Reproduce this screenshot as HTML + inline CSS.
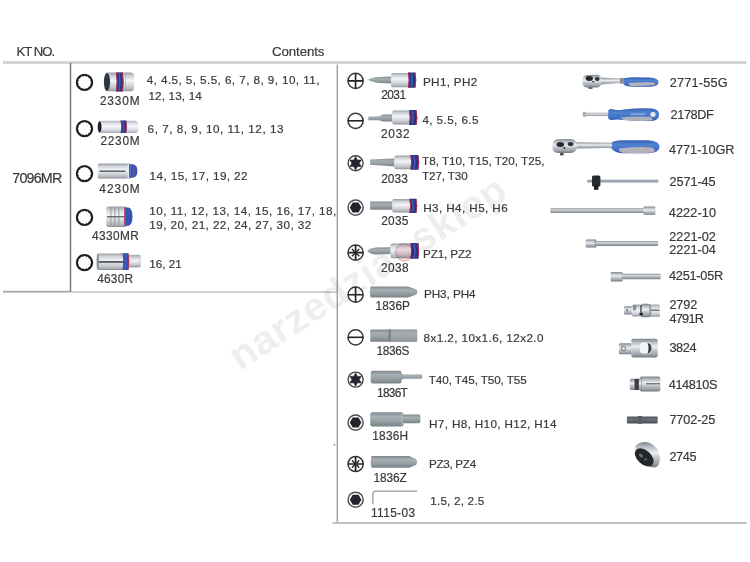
<!DOCTYPE html>
<html><head><meta charset="utf-8"><style>
html,body{margin:0;padding:0;background:#fff;}
body{width:750px;height:562px;position:relative;overflow:hidden;font-family:"Liberation Sans",sans-serif;}
.t{position:absolute;white-space:nowrap;color:#3a3a3e;font-family:"Liberation Sans",sans-serif;-webkit-text-stroke:0.2px #3a3a3e;}
svg{position:absolute;left:0;top:0;}
.wm{position:absolute;left:240px;top:337.14px;font:bold 40px/40px "Liberation Sans",sans-serif;color:#eeeeef;white-space:nowrap;transform-origin:0 33.86px;transform:rotate(-32.9deg);letter-spacing:0.8px;mix-blend-mode:multiply;}
.wm .dot{display:inline-block;width:19px;height:19px;border-radius:50%;background:rgba(235,150,165,.28);box-shadow:inset 0 0 0 2px rgba(220,120,140,.25);vertical-align:1.5px;margin:0 4px 0 3px;}
</style></head><body>
<svg width="750" height="562" viewBox="0 0 750 562">
<defs>
<linearGradient id="silv" x1="0" y1="0" x2="0" y2="1">
 <stop offset="0" stop-color="#7e858c"/><stop offset=".2" stop-color="#b9bfc5"/><stop offset=".42" stop-color="#eceef0"/><stop offset=".62" stop-color="#c0c5ca"/><stop offset=".85" stop-color="#9aa1a8"/><stop offset="1" stop-color="#6e757c"/>
</linearGradient>
<linearGradient id="silvL" x1="0" y1="0" x2="0" y2="1">
 <stop offset="0" stop-color="#a2a8ae"/><stop offset=".25" stop-color="#d6dade"/><stop offset=".5" stop-color="#f2f3f5"/><stop offset=".8" stop-color="#c4c9ce"/><stop offset="1" stop-color="#8e959c"/>
</linearGradient>
<linearGradient id="silvP" x1="0" y1="0" x2="0" y2="1">
 <stop offset="0" stop-color="#b0b4c0"/><stop offset=".2" stop-color="#dcdfe8"/><stop offset=".45" stop-color="#f6f6fa"/><stop offset=".75" stop-color="#dadce6"/><stop offset="1" stop-color="#a8acb8"/>
</linearGradient>
<linearGradient id="sock" x1="0" y1="0" x2="0" y2="1">
 <stop offset="0" stop-color="#979da4"/><stop offset=".18" stop-color="#cfd3d8"/><stop offset=".42" stop-color="#f3f4f6"/><stop offset=".68" stop-color="#d3d7db"/><stop offset=".88" stop-color="#b3b8be"/><stop offset="1" stop-color="#888e95"/>
</linearGradient>
<linearGradient id="rod" x1="0" y1="0" x2="0" y2="1">
 <stop offset="0" stop-color="#868c93"/><stop offset=".3" stop-color="#d2d6da"/><stop offset=".55" stop-color="#b6bbc0"/><stop offset="1" stop-color="#7a8087"/>
</linearGradient>
<linearGradient id="rodb" x1="0" y1="0" x2="0" y2="1">
 <stop offset="0" stop-color="#6c7890"/><stop offset=".45" stop-color="#b8c0d0"/><stop offset="1" stop-color="#6a7488"/>
</linearGradient>
<linearGradient id="bitg" x1="0" y1="0" x2="0" y2="1">
 <stop offset="0" stop-color="#7e888c"/><stop offset=".3" stop-color="#a6afb3"/><stop offset=".6" stop-color="#98a1a5"/><stop offset="1" stop-color="#788286"/>
</linearGradient>
<linearGradient id="bitd" x1="0" y1="0" x2="0" y2="1">
 <stop offset="0" stop-color="#4e555c"/><stop offset=".4" stop-color="#6c737a"/><stop offset="1" stop-color="#454b52"/>
</linearGradient>
<linearGradient id="blu" x1="0" y1="0" x2="0" y2="1">
 <stop offset="0" stop-color="#3560b4"/><stop offset=".35" stop-color="#5284d2"/><stop offset=".75" stop-color="#3f6fc2"/><stop offset="1" stop-color="#2f5aac"/>
</linearGradient>
<linearGradient id="band" x1="0" y1="0" x2="1" y2="0">
 <stop offset="0" stop-color="#c03048"/><stop offset=".15" stop-color="#2a3a98"/><stop offset=".5" stop-color="#3550b8"/><stop offset=".85" stop-color="#2a3a98"/><stop offset="1" stop-color="#c03048"/>
</linearGradient>
<linearGradient id="gry" x1="0" y1="0" x2="0" y2="1">
 <stop offset="0" stop-color="#9aa0a6"/><stop offset="1" stop-color="#c8ccd0"/>
</linearGradient>
</defs>
<rect x="3" y="61" width="743.5" height="3" fill="#d9d9dd"/>
<rect x="3" y="61.6" width="743.5" height="1.6" fill="#cfcfd4"/>
<rect x="69.8" y="63" width="1.4" height="229" fill="#707074"/>
<rect x="3" y="290.8" width="67" height="1.8" fill="#a6a6ae"/>
<rect x="71" y="291.3" width="266" height="1.6" fill="#c2c2ca"/>
<rect x="336.6" y="64.5" width="1.3" height="458" fill="#9a9a9e"/>
<rect x="332.5" y="522" width="414.3" height="2" fill="#c2c2c4"/>
<path d="M75.80,82.40 a8.7,8.7 0 1,0 17.4,0 a8.7,8.7 0 1,0 -17.4,0 Z M84.50,75.65 L86.07,76.56 L87.88,76.55 L88.78,78.12 L90.35,79.03 L90.34,80.83 L91.25,82.40 L90.34,83.97 L90.35,85.78 L88.78,86.68 L87.88,88.25 L86.07,88.24 L84.50,89.15 L82.93,88.24 L81.12,88.25 L80.22,86.68 L78.65,85.78 L78.66,83.97 L77.75,82.40 L78.66,80.83 L78.65,79.03 L80.22,78.12 L81.12,76.55 L82.93,76.56 Z" fill="#1c1c20" fill-rule="evenodd"/>
<path d="M75.80,128.60 a8.7,8.7 0 1,0 17.4,0 a8.7,8.7 0 1,0 -17.4,0 Z M84.50,121.85 L86.07,122.76 L87.88,122.75 L88.78,124.32 L90.35,125.22 L90.34,127.03 L91.25,128.60 L90.34,130.17 L90.35,131.97 L88.78,132.88 L87.88,134.45 L86.07,134.44 L84.50,135.35 L82.93,134.44 L81.12,134.45 L80.22,132.88 L78.65,131.97 L78.66,130.17 L77.75,128.60 L78.66,127.03 L78.65,125.22 L80.22,124.32 L81.12,122.75 L82.93,122.76 Z" fill="#1c1c20" fill-rule="evenodd"/>
<path d="M75.80,173.60 a8.7,8.7 0 1,0 17.4,0 a8.7,8.7 0 1,0 -17.4,0 Z M84.50,166.85 L86.07,167.76 L87.88,167.75 L88.78,169.32 L90.35,170.22 L90.34,172.03 L91.25,173.60 L90.34,175.17 L90.35,176.97 L88.78,177.88 L87.88,179.45 L86.07,179.44 L84.50,180.35 L82.93,179.44 L81.12,179.45 L80.22,177.88 L78.65,176.97 L78.66,175.17 L77.75,173.60 L78.66,172.03 L78.65,170.22 L80.22,169.32 L81.12,167.75 L82.93,167.76 Z" fill="#1c1c20" fill-rule="evenodd"/>
<path d="M75.80,217.40 a8.7,8.7 0 1,0 17.4,0 a8.7,8.7 0 1,0 -17.4,0 Z M84.50,210.65 L86.07,211.56 L87.88,211.55 L88.78,213.12 L90.35,214.03 L90.34,215.83 L91.25,217.40 L90.34,218.97 L90.35,220.78 L88.78,221.68 L87.88,223.25 L86.07,223.24 L84.50,224.15 L82.93,223.24 L81.12,223.25 L80.22,221.68 L78.65,220.78 L78.66,218.97 L77.75,217.40 L78.66,215.83 L78.65,214.03 L80.22,213.12 L81.12,211.55 L82.93,211.56 Z" fill="#1c1c20" fill-rule="evenodd"/>
<path d="M75.80,262.60 a8.7,8.7 0 1,0 17.4,0 a8.7,8.7 0 1,0 -17.4,0 Z M84.50,255.85 L86.07,256.76 L87.88,256.75 L88.78,258.32 L90.35,259.23 L90.34,261.03 L91.25,262.60 L90.34,264.17 L90.35,265.98 L88.78,266.88 L87.88,268.45 L86.07,268.44 L84.50,269.35 L82.93,268.44 L81.12,268.45 L80.22,266.88 L78.65,265.98 L78.66,264.17 L77.75,262.60 L78.66,261.03 L78.65,259.23 L80.22,258.32 L81.12,256.75 L82.93,256.76 Z" fill="#1c1c20" fill-rule="evenodd"/>
<circle cx="355.6" cy="80.9" r="7.6" fill="none" stroke="#3a3a3e" stroke-width="1.5"/><path d="M355.6,73.30000000000001 V88.5 M348.0,80.9 H363.20000000000005" stroke="#222" stroke-width="1.6"/>
<circle cx="355.6" cy="120.8" r="7.6" fill="none" stroke="#3a3a3e" stroke-width="1.5"/><path d="M348.0,120.8 H363.20000000000005" stroke="#222" stroke-width="1.6"/>
<circle cx="355.6" cy="163.3" r="7.5" fill="none" stroke="#444" stroke-width="1.4"/><path d="M355.60,156.70 L357.45,160.10 L361.32,160.00 L359.30,163.30 L361.32,166.60 L357.45,166.50 L355.60,169.90 L353.75,166.50 L349.88,166.60 L351.90,163.30 L349.88,160.00 L353.75,160.10 Z" fill="#23262c" stroke="#23262c" stroke-width="0.6" stroke-linejoin="round"/>
<circle cx="355.6" cy="207.6" r="7.55" fill="none" stroke="#505055" stroke-width="1.45"/><path d="M361.40,207.60 L358.50,212.62 L352.70,212.62 L349.80,207.60 L352.70,202.58 L358.50,202.58 Z" fill="#22252b"/>
<circle cx="355.6" cy="252.6" r="7.6" fill="none" stroke="#3a3a3e" stroke-width="1.5"/><path d="M355.6,245.0 V260.2 M348.0,252.6 H363.20000000000005" stroke="#222" stroke-width="1.7"/><path d="M356.45,253.45 L359.28,256.28 M354.75,253.45 L351.92,256.28 M354.75,251.75 L351.92,248.92 M356.45,251.75 L359.28,248.92 " stroke="#222" stroke-width="1.35"/>
<circle cx="355.6" cy="294.7" r="7.6" fill="none" stroke="#3a3a3e" stroke-width="1.5"/><path d="M355.6,287.09999999999997 V302.3 M348.0,294.7 H363.20000000000005" stroke="#222" stroke-width="1.6"/>
<circle cx="355.6" cy="337.3" r="7.6" fill="none" stroke="#3a3a3e" stroke-width="1.5"/><path d="M348.0,337.3 H363.20000000000005" stroke="#222" stroke-width="1.6"/>
<circle cx="355.6" cy="379.6" r="7.5" fill="none" stroke="#444" stroke-width="1.4"/><path d="M355.60,373.00 L357.45,376.40 L361.32,376.30 L359.30,379.60 L361.32,382.90 L357.45,382.80 L355.60,386.20 L353.75,382.80 L349.88,382.90 L351.90,379.60 L349.88,376.30 L353.75,376.40 Z" fill="#23262c" stroke="#23262c" stroke-width="0.6" stroke-linejoin="round"/>
<circle cx="355.6" cy="422.6" r="7.55" fill="none" stroke="#505055" stroke-width="1.45"/><path d="M361.40,422.60 L358.50,427.62 L352.70,427.62 L349.80,422.60 L352.70,417.58 L358.50,417.58 Z" fill="#22252b"/>
<circle cx="355.6" cy="464.0" r="7.6" fill="none" stroke="#3a3a3e" stroke-width="1.5"/><path d="M355.6,456.4 V471.6 M348.0,464.0 H363.20000000000005" stroke="#222" stroke-width="1.7"/><path d="M356.45,464.85 L359.28,467.68 M354.75,464.85 L351.92,467.68 M354.75,463.15 L351.92,460.32 M356.45,463.15 L359.28,460.32 " stroke="#222" stroke-width="1.35"/>
<circle cx="355.6" cy="499.7" r="7.55" fill="none" stroke="#505055" stroke-width="1.45"/><path d="M361.40,499.70 L358.50,504.72 L352.70,504.72 L349.80,499.70 L352.70,494.68 L358.50,494.68 Z" fill="#22252b"/>
<g>
<rect x="104.5" y="72.6" width="29.50" height="18.70" rx="3.5" fill="url(#sock)" />
<ellipse cx="107" cy="81.95" rx="3.1" ry="8.9" fill="#30363e"/>
<path d="M116.00,72.40 Q117.60,81.95 116.00,91.50 L122.80,91.50 Q124.40,81.95 122.80,72.40 Z" fill="#2a3282"/><path d="M119.06,73.40 Q120.66,81.95 119.06,90.50" stroke="#5068c0" stroke-width="1.70" fill="none" opacity=".7"/><path d="M116.45,72.40 Q118.05,81.95 116.45,91.50" stroke="#c02c48" stroke-width="0.9" fill="none"/><path d="M122.35,72.40 Q123.95,81.95 122.35,91.50" stroke="#c02c48" stroke-width="0.9" fill="none"/>
<rect x="125" y="74" width="0.8" height="15.5" fill="#9aa4b0" opacity=".6"/>
<rect x="98.2" y="120.8" width="40.10" height="12.10" rx="3.5" fill="url(#silvP)" />
<ellipse cx="99.6" cy="126.85" rx="1.9" ry="5.6" fill="#1c2026"/>
<path d="M120.60,120.60 Q122.20,126.85 120.60,133.10 L126.20,133.10 Q127.80,126.85 126.20,120.60 Z" fill="#2a3282"/><path d="M123.12,121.60 Q124.72,126.85 123.12,132.10" stroke="#5068c0" stroke-width="1.40" fill="none" opacity=".7"/><path d="M121.05,120.60 Q122.65,126.85 121.05,133.10" stroke="#c02c48" stroke-width="0.9" fill="none"/><path d="M125.75,120.60 Q127.35,126.85 125.75,133.10" stroke="#c02c48" stroke-width="0.9" fill="none"/>
<rect x="97.7" y="163.6" width="33.30" height="14.90" rx="1.5" fill="url(#sock)" />
<rect x="99.5" y="170.6" width="26" height="1.1" fill="#2a2c30"/>
<rect x="127.6" y="164" width="1.6" height="14" fill="#e4e7ea"/>
<path d="M129,164.3 H133 Q137.4,165 137.4,171 Q137.4,177 133,177.7 H129 Z" fill="#3a52b0"/>
<path d="M130.2,165 V177" stroke="#6a80d0" stroke-width="1.2" opacity=".7"/>
<path d="M133.4,164.6 Q134.4,171 133.4,177.4" stroke="#c83a4c" stroke-width="1" fill="none"/>
<rect x="106.3" y="206.4" width="20.70" height="20.60" rx="2.5" fill="url(#sock)" />
<rect x="110.5" y="207" width="0.8" height="19.5" fill="#8a9096"/><rect x="114.5" y="207" width="0.8" height="19.5" fill="#8a9096"/><rect x="118.5" y="207" width="0.8" height="19.5" fill="#8a9096"/>
<rect x="107" y="216.2" width="18" height="1.1" fill="#4a4e54"/>
<path d="M124.5,207.6 H128.5 Q132.5,209 132.5,216.7 Q132.5,224.5 128.5,225.8 H124.5 Z" fill="#3552b4"/>
<rect x="124.3" y="207.6" width="1.6" height="18.2" fill="#c03a48"/>
<rect x="96.7" y="253.4" width="32.00" height="16.50" rx="2" fill="url(#sock)" />
<rect x="128.4" y="255" width="12" height="12.2" rx="1" fill="url(#silvL)" stroke="#b0b6bc" stroke-width=".5"/>
<rect x="99" y="261.3" width="27" height="1.3" fill="#1e2024"/>
<path d="M122.60,253.30 Q124.20,261.60 122.60,269.90 L128.40,269.90 Q130.00,261.60 128.40,253.30 Z" fill="#3050b8"/><path d="M125.21,254.30 Q126.81,261.60 125.21,268.90" stroke="#5068c0" stroke-width="1.45" fill="none" opacity=".7"/><path d="M123.05,253.30 Q124.65,261.60 123.05,269.90" stroke="#c02c48" stroke-width="0.9" fill="none"/><path d="M127.95,253.30 Q129.55,261.60 127.95,269.90" stroke="#c02c48" stroke-width="0.9" fill="none"/>
<ellipse cx="97.8" cy="261.6" rx="1.2" ry="8" fill="#8a9096"/>
<path d="M368,79.7 Q372,77.2 379.5,77 L391.5,76.6 L391.5,83.6 L379.5,83 Q372,82.3 368,79.7 Z" fill="url(#bitg)"/>
<rect x="391" y="72.9" width="17.60" height="14.40" rx="1.8" fill="url(#sock)" /><path d="M408.00,72.50 Q409.60,80.10 408.00,87.70 L415.40,87.70 Q417.00,80.10 415.40,72.50 Z" fill="#2a3282"/><path d="M411.33,73.50 Q412.93,80.10 411.33,86.70" stroke="#5068c0" stroke-width="1.85" fill="none" opacity=".7"/><path d="M408.45,72.50 Q410.05,80.10 408.45,87.70" stroke="#c02c48" stroke-width="0.9" fill="none"/><path d="M414.95,72.50 Q416.55,80.10 414.95,87.70" stroke="#c02c48" stroke-width="0.9" fill="none"/>
<path d="M368.3,116.7 L379,116.3 L383,114.6 L392.5,114.6 L392.5,121.4 L383,121.4 L379,120.3 L368.3,120.3 Z" fill="url(#bitg)"/>
<rect x="392.2" y="110.4" width="17.40" height="14.20" rx="1.8" fill="url(#sock)" /><path d="M409.00,110.00 Q410.60,117.50 409.00,125.00 L416.50,125.00 Q418.10,117.50 416.50,110.00 Z" fill="#2a3282"/><path d="M412.38,111.00 Q413.98,117.50 412.38,124.00" stroke="#5068c0" stroke-width="1.88" fill="none" opacity=".7"/><path d="M409.45,110.00 Q411.05,117.50 409.45,125.00" stroke="#c02c48" stroke-width="0.9" fill="none"/><path d="M416.05,110.00 Q417.65,117.50 416.05,125.00" stroke="#c02c48" stroke-width="0.9" fill="none"/>
<path d="M370.1,159.6 L394.6,158.5 L394.6,166.5 L370.1,164.8 Z" fill="url(#bitg)"/>
<rect x="394.4" y="155.5" width="16.60" height="13.80" rx="1.8" fill="url(#sock)" /><path d="M410.40,155.10 Q412.00,162.40 410.40,169.70 L418.40,169.70 Q420.00,162.40 418.40,155.10 Z" fill="#2a3282"/><path d="M414.00,156.10 Q415.60,162.40 414.00,168.70" stroke="#5068c0" stroke-width="2.00" fill="none" opacity=".7"/><path d="M410.85,155.10 Q412.45,162.40 410.85,169.70" stroke="#c02c48" stroke-width="0.9" fill="none"/><path d="M417.95,155.10 Q419.55,162.40 417.95,169.70" stroke="#c02c48" stroke-width="0.9" fill="none"/>
<rect x="370.1" y="201.4" width="22.90" height="8.40" rx="0.8" fill="url(#bitg)" />
<rect x="392.2" y="199.1" width="17.80" height="13.50" rx="1.8" fill="url(#sock)" /><path d="M409.40,198.70 Q411.00,205.85 409.40,213.00 L416.40,213.00 Q418.00,205.85 416.40,198.70 Z" fill="#2a3282"/><path d="M412.55,199.70 Q414.15,205.85 412.55,212.00" stroke="#5068c0" stroke-width="1.75" fill="none" opacity=".7"/><path d="M409.85,198.70 Q411.45,205.85 409.85,213.00" stroke="#c02c48" stroke-width="0.9" fill="none"/><path d="M415.95,198.70 Q417.55,205.85 415.95,213.00" stroke="#c02c48" stroke-width="0.9" fill="none"/>
<path d="M367.2,250.9 Q370,248 376,247.5 L390.8,247.2 L390.8,253.9 L376,254.5 Q370,254 367.2,250.9 Z" fill="url(#bitg)"/>
<rect x="390.4" y="243.4" width="20.60" height="14.90" rx="1.8" fill="url(#sock)" /><path d="M410.40,243.00 Q412.00,250.85 410.40,258.70 L418.30,258.70 Q419.90,250.85 418.30,243.00 Z" fill="#2a3282"/><path d="M413.95,244.00 Q415.56,250.85 413.95,257.70" stroke="#5068c0" stroke-width="1.98" fill="none" opacity=".7"/><path d="M410.85,243.00 Q412.45,250.85 410.85,258.70" stroke="#c02c48" stroke-width="0.9" fill="none"/><path d="M417.85,243.00 Q419.45,250.85 417.85,258.70" stroke="#c02c48" stroke-width="0.9" fill="none"/>
<path d="M370.5,286.5 H408 L416.6,289.6 Q418.2,292 416.6,294.4 L408,297.5 H370.5 Q368.8,292 370.5,286.5 Z" fill="url(#bitg)"/>
<rect x="370.2" y="329.4" width="47.00" height="12.40" rx="0.8" fill="url(#bitg)" />
<path d="M391,329.4 L417.2,330.5 L417.2,340.8 L391,341.8 Z" fill="#a2a9ad" opacity=".55"/>
<rect x="388.5" y="329.4" width="2.5" height="12.4" fill="#7c8489"/>
<rect x="370.7" y="370.8" width="30.80" height="12.80" rx="2" fill="url(#bitg)" />
<path d="M400.5,373.2 Q402,374.6 404,374.6 H421.8 Q422.8,376.7 421.8,378.8 H404 Q402,378.8 400.5,380.6 Z" fill="url(#bitg)"/>
<rect x="370.2" y="412.2" width="33.40" height="14.40" rx="2.5" fill="url(#bitg)" />
<rect x="402.5" y="414.6" width="17.90" height="8.60" rx="1.8" fill="url(#bitg)" />
<rect x="401.5" y="412.6" width="1.2" height="13.6" fill="#b8bec2" opacity=".8"/>
<path d="M371.5,456.1 H409 L416.2,459 Q418,462 416.2,465 L409,467.8 H371.5 Q369.8,462 371.5,456.1 Z" fill="url(#bitg)"/>
<path d="M372.9,504.3 V494.2 Q372.9,491.1 376,491.1 H417.2" fill="none" stroke="#9c9ca0" stroke-width="1.3"/>
<path d="M600,77.6 L620,78.6 L623.8,78 L623.8,83.6 L620,83 L600,84.6 Z" fill="url(#silv)"/>
<rect x="619.8" y="78" width="4" height="5.6" fill="#8a9096"/>
<path d="M586,74.9 Q582.4,75.6 582.4,81.2 Q582.4,87.4 587,87.6 L597,87.6 Q601.6,86.8 601.6,81.2 Q601.6,75.2 597,74.8 Z" fill="url(#silv)"/>
<rect x="588.5" y="86.8" width="4" height="2.2" fill="#6a7076"/>
<ellipse cx="589.3" cy="78.6" rx="3.6" ry="2.5" fill="#24282e"/><ellipse cx="597.2" cy="79" rx="2.4" ry="1.9" fill="#30343a"/><ellipse cx="593.2" cy="81.6" rx="1.1" ry=".9" fill="#3a3e44"/>
<path d="M623.6,78.6 Q626,77.4 632,77.3 L650,77.5 Q658.5,78.2 658.5,82 Q658.5,86.4 650,86.8 L632,86.8 Q626,86.6 623.6,84.6 Z" fill="url(#blu)"/>
<path d="M628.5,83 Q640,82 652,82.3 Q656,83 655,85 Q645,86 630,86 Z" fill="#b4b2ba"/>
<rect x="583" y="112.8" width="26" height="3.2" fill="url(#silv)"/>
<rect x="582.8" y="111.8" width="3" height="5.2" rx="1" fill="#a8aeb4"/>
<path d="M608.2,110.5 Q610,108.4 614,109.4 Q618,110.4 624,109.4 Q640,107.8 652,108.6 Q659.2,109.4 659.2,114.6 Q659.2,120.4 652,120.9 Q640,121.5 624,120 Q618,119 614,119.8 Q610,120.6 608.2,118.5 Z" fill="url(#blu)"/>
<path d="M620,117.4 Q636,115.8 650,116.8 Q654,118.6 652,120.6 Q640,121.4 624,120 Z" fill="#b0b0ba"/>
<ellipse cx="653" cy="114.5" rx="2.6" ry="2.4" fill="#e8e8ee"/>
<rect x="631" y="113.6" width="14" height="1" fill="#c8d4f0" opacity=".8"/>
<path d="M574,142.3 L608,142.8 L612.4,142.4 L612.4,148.6 L608,148 L574,148.6 Z" fill="url(#silv)"/>
<path d="M557,139.2 Q552.3,140.2 552.3,146 Q552.3,152.8 558,153 L571,153 Q577,152.4 577,146 Q577,139.4 571,139 Z" fill="url(#silv)"/>
<ellipse cx="560.3" cy="144.4" rx="3.8" ry="2.5" fill="#26292f"/><ellipse cx="570.6" cy="144.1" rx="2.9" ry="2" fill="#30343a"/><ellipse cx="564.4" cy="148" rx="1.2" ry=".9" fill="#3a3e44"/>
<rect x="560" y="153" width="3.6" height="2.4" fill="#4a4f55"/>
<path d="M612,142.5 Q614,140.5 622,140.3 L648,140.3 Q659.6,141 659.6,146.8 Q659.6,153 648,153.2 L622,153.2 Q614,152.6 612,149 Z" fill="url(#blu)"/>
<path d="M619,148.5 Q636,146.5 652,147.4 Q656,149.2 654,152.6 Q640,153.6 622,152.8 Q618,151 619,148.5 Z" fill="#b4b2ba"/>
<rect x="587.2" y="179.8" width="71.2" height="2.6" fill="url(#rodb)"/>
<rect x="592" y="175.5" width="8.4" height="11" rx="1.5" fill="#26292e"/>
<rect x="594" y="185" width="4.4" height="4.8" fill="#1e2024"/>
<rect x="550.3" y="208.3" width="94" height="4.8" rx="1" fill="url(#rod)"/>
<rect x="643.4" y="206.5" width="12" height="8.3" rx="1" fill="url(#silv)"/>
<rect x="585.7" y="239.6" width="11" height="7.8" rx="1" fill="url(#silv)"/>
<rect x="596" y="241.1" width="62.2" height="4.8" rx=".8" fill="url(#rod)"/>
<rect x="594.5" y="239.6" width="1" height="7.8" fill="#8a9096"/>
<rect x="610.7" y="272" width="12" height="9.4" rx="1" fill="url(#silv)"/>
<rect x="622" y="273.8" width="38.7" height="5.5" rx=".8" fill="url(#rod)"/>
<rect x="624" y="306.2" width="8.5" height="8.3" rx="1" fill="url(#silv)"/>
<rect x="631.5" y="304.6" width="10" height="12" rx="2.5" fill="url(#silvL)"/>
<rect x="640.5" y="303.8" width="10" height="13.4" rx="2" fill="url(#silv)"/>
<rect x="650" y="304.4" width="10" height="12.4" rx="1.5" fill="url(#silvL)"/>
<path d="M633,305.5 L637,305.5 L635.5,310.5 L633,310.5 Z" fill="#6a7076" opacity=".7"/>
<rect x="640.2" y="305" width="1.4" height="7" fill="#4a4f55"/>
<rect x="649.6" y="304.6" width="1.2" height="12" fill="#7a8086"/>
<rect x="651" y="309.6" width="8.5" height="1.2" fill="#3a3e44" opacity=".85"/>
<ellipse cx="641.2" cy="313.9" rx="1.9" ry="1.7" fill="#24272c"/>
<ellipse cx="627" cy="310.3" rx="1" ry="1" fill="#6a7076"/>
<rect x="618.8" y="343.3" width="13" height="11" rx="1.5" fill="url(#silv)"/>
<rect x="631.3" y="338.8" width="26.4" height="18.8" rx="2" fill="url(#silv)"/>
<rect x="640" y="342.6" width="11.5" height="11" rx="3" fill="#f4f5f6"/>
<path d="M647.5,343 Q651.5,343.5 651.5,348 Q651.5,353 647.5,353.4 Q649.5,348 647.5,343 Z" fill="#3a3e44"/>
<circle cx="623.5" cy="348.6" r="2.2" fill="none" stroke="#6a7076" stroke-width=".9"/>
<rect x="629.8" y="378.7" width="11" height="11.4" rx="1.5" fill="url(#silv)"/>
<rect x="634.6" y="378.9" width="4.2" height="11" fill="#3a3e44"/>
<rect x="639.6" y="376.5" width="20.8" height="15" rx="2" fill="url(#silv)"/>
<rect x="646" y="383.2" width="14" height="1.1" fill="#5a5e64"/>
<rect x="641" y="377" width="1" height="14" fill="#8a9096" opacity=".7"/>
<rect x="626.9" y="416.6" width="30.8" height="6.8" rx="1" fill="url(#bitd)"/>
<rect x="638" y="416" width="4" height="7.8" fill="#555c62"/>
<path d="M635.5,446 Q641,440.6 649,442.6 Q659.8,447.5 659.9,458.5 Q659.8,466.8 654.5,467.6 Q646,467 639,461 Q633.5,453 635.5,446 Z" fill="url(#silv)"/>
<ellipse cx="644.3" cy="457.3" rx="11" ry="6.9" transform="rotate(42 644.3 457.3)" fill="#23262c"/>
<ellipse cx="641" cy="455.5" rx="2.4" ry="1.5" transform="rotate(42 641 455.5)" fill="#8a9096" opacity=".7"/>
<ellipse cx="645.5" cy="459.5" rx="1.6" ry="1.2" fill="#7a8086" opacity=".6"/>
<ellipse cx="334.4" cy="444.8" rx=".7" ry="1.1" fill="#8a8a8e" transform="rotate(30 334.4 444.8)"/>
</g>
</svg>
<div class="t" style="left:16.60px;top:45px;font-size:13.14px;line-height:13.14px;letter-spacing:-0.981px;">KT NO.</div>
<div class="t" style="left:272.00px;top:45px;font-size:13.29px;line-height:13.29px;letter-spacing:-0.102px;">Contents</div>
<div class="t" style="left:12.30px;top:171px;font-size:14.29px;line-height:14.29px;letter-spacing:-0.813px;">7096MR</div>
<div class="t" style="left:99.90px;top:96px;font-size:11.86px;line-height:11.86px;letter-spacing:0.879px;">2330M</div>
<div class="t" style="left:100.40px;top:136px;font-size:11.86px;line-height:11.86px;letter-spacing:0.754px;">2230M</div>
<div class="t" style="left:99.30px;top:184px;font-size:11.86px;line-height:11.86px;letter-spacing:1.029px;">4230M</div>
<div class="t" style="left:91.90px;top:231px;font-size:11.86px;line-height:11.86px;letter-spacing:0.428px;">4330MR</div>
<div class="t" style="left:97.20px;top:274px;font-size:11.86px;line-height:11.86px;letter-spacing:0.229px;">4630R</div>
<div class="t" style="left:146.70px;top:74px;font-size:11.71px;line-height:11.71px;letter-spacing:0.418px;">4, 4.5, 5, 5.5, 6, 7, 8, 9, 10, 11,</div>
<div class="t" style="left:148.40px;top:90px;font-size:11.71px;line-height:11.71px;letter-spacing:0.150px;">12, 13, 14</div>
<div class="t" style="left:147.60px;top:123px;font-size:11.71px;line-height:11.71px;letter-spacing:0.526px;">6, 7, 8, 9, 10, 11, 12, 13</div>
<div class="t" style="left:149.60px;top:170px;font-size:11.71px;line-height:11.71px;letter-spacing:0.401px;">14, 15, 17, 19, 22</div>
<div class="t" style="left:149.30px;top:205px;font-size:11.71px;line-height:11.71px;letter-spacing:0.453px;">10, 11, 12, 13, 14, 15, 16, 17, 18,</div>
<div class="t" style="left:149.30px;top:219px;font-size:11.71px;line-height:11.71px;letter-spacing:0.422px;">19, 20, 21, 22, 24, 27, 30, 32</div>
<div class="t" style="left:149.20px;top:258px;font-size:11.71px;line-height:11.71px;letter-spacing:-0.006px;">16, 21</div>
<div class="t" style="left:381.20px;top:90px;font-size:11.86px;line-height:11.86px;letter-spacing:-0.529px;">2031</div>
<div class="t" style="left:381.00px;top:129px;font-size:11.86px;line-height:11.86px;letter-spacing:0.738px;">2032</div>
<div class="t" style="left:381.20px;top:174px;font-size:11.86px;line-height:11.86px;letter-spacing:0.071px;">2033</div>
<div class="t" style="left:381.20px;top:216px;font-size:11.86px;line-height:11.86px;letter-spacing:0.271px;">2035</div>
<div class="t" style="left:381.00px;top:263px;font-size:11.86px;line-height:11.86px;letter-spacing:0.404px;">2038</div>
<div class="t" style="left:375.60px;top:301px;font-size:11.86px;line-height:11.86px;letter-spacing:0.004px;">1836P</div>
<div class="t" style="left:376.40px;top:346px;font-size:11.86px;line-height:11.86px;letter-spacing:-0.346px;">1836S</div>
<div class="t" style="left:377.00px;top:388px;font-size:11.86px;line-height:11.86px;letter-spacing:-0.696px;">1836T</div>
<div class="t" style="left:372.20px;top:431px;font-size:11.86px;line-height:11.86px;letter-spacing:0.254px;">1836H</div>
<div class="t" style="left:373.40px;top:473px;font-size:11.86px;line-height:11.86px;letter-spacing:-0.096px;">1836Z</div>
<div class="t" style="left:371.00px;top:508px;font-size:11.86px;line-height:11.86px;letter-spacing:0.372px;">1115-03</div>
<div class="t" style="left:423.00px;top:76px;font-size:11.71px;line-height:11.71px;letter-spacing:0.310px;">PH1, PH2</div>
<div class="t" style="left:422.40px;top:114px;font-size:11.71px;line-height:11.71px;letter-spacing:0.406px;">4, 5.5, 6.5</div>
<div class="t" style="left:422.10px;top:155px;font-size:11.71px;line-height:11.71px;letter-spacing:-0.020px;">T8, T10, T15, T20, T25,</div>
<div class="t" style="left:422.10px;top:170px;font-size:11.71px;line-height:11.71px;letter-spacing:-0.147px;">T27, T30</div>
<div class="t" style="left:423.20px;top:202px;font-size:11.71px;line-height:11.71px;letter-spacing:0.397px;">H3, H4, H5, H6</div>
<div class="t" style="left:423.00px;top:248px;font-size:11.71px;line-height:11.71px;letter-spacing:-0.132px;">PZ1, PZ2</div>
<div class="t" style="left:424.00px;top:288px;font-size:11.71px;line-height:11.71px;letter-spacing:-0.075px;">PH3, PH4</div>
<div class="t" style="left:423.60px;top:332px;font-size:11.71px;line-height:11.71px;letter-spacing:0.400px;">8x1.2, 10x1.6, 12x2.0</div>
<div class="t" style="left:428.80px;top:374px;font-size:11.71px;line-height:11.71px;letter-spacing:-0.098px;">T40, T45, T50, T55</div>
<div class="t" style="left:429.00px;top:418px;font-size:11.71px;line-height:11.71px;letter-spacing:0.358px;">H7, H8, H10, H12, H14</div>
<div class="t" style="left:428.90px;top:458px;font-size:11.71px;line-height:11.71px;letter-spacing:-0.303px;">PZ3, PZ4</div>
<div class="t" style="left:430.30px;top:495px;font-size:11.71px;line-height:11.71px;letter-spacing:0.186px;">1.5, 2, 2.5</div>
<div class="t" style="left:669.80px;top:77px;font-size:12.71px;line-height:12.71px;letter-spacing:0.197px;">2771-55G</div>
<div class="t" style="left:670.60px;top:109px;font-size:12.71px;line-height:12.71px;letter-spacing:-0.407px;">2178DF</div>
<div class="t" style="left:669.00px;top:144px;font-size:12.71px;line-height:12.71px;letter-spacing:-0.025px;">4771-10GR</div>
<div class="t" style="left:669.60px;top:176px;font-size:12.71px;line-height:12.71px;letter-spacing:-0.109px;">2571-45</div>
<div class="t" style="left:668.80px;top:207px;font-size:12.71px;line-height:12.71px;letter-spacing:0.091px;">4222-10</div>
<div class="t" style="left:669.30px;top:231px;font-size:12.71px;line-height:12.71px;letter-spacing:-0.009px;">2221-02</div>
<div class="t" style="left:669.30px;top:244px;font-size:12.71px;line-height:12.71px;letter-spacing:-0.009px;">2221-04</div>
<div class="t" style="left:669.00px;top:270px;font-size:12.71px;line-height:12.71px;letter-spacing:-0.231px;">4251-05R</div>
<div class="t" style="left:669.40px;top:299px;font-size:12.71px;line-height:12.71px;letter-spacing:-0.132px;">2792</div>
<div class="t" style="left:669.40px;top:313px;font-size:12.71px;line-height:12.71px;letter-spacing:-0.715px;">4791R</div>
<div class="t" style="left:669.40px;top:342px;font-size:12.71px;line-height:12.71px;letter-spacing:-0.365px;">3824</div>
<div class="t" style="left:668.70px;top:379px;font-size:12.71px;line-height:12.71px;letter-spacing:-0.348px;">414810S</div>
<div class="t" style="left:669.40px;top:414px;font-size:12.71px;line-height:12.71px;letter-spacing:-0.109px;">7702-25</div>
<div class="t" style="left:669.40px;top:451px;font-size:12.71px;line-height:12.71px;letter-spacing:-0.365px;">2745</div>
<div class="wm">narzedzia<span class="dot"></span>sklep</div>
</body></html>
